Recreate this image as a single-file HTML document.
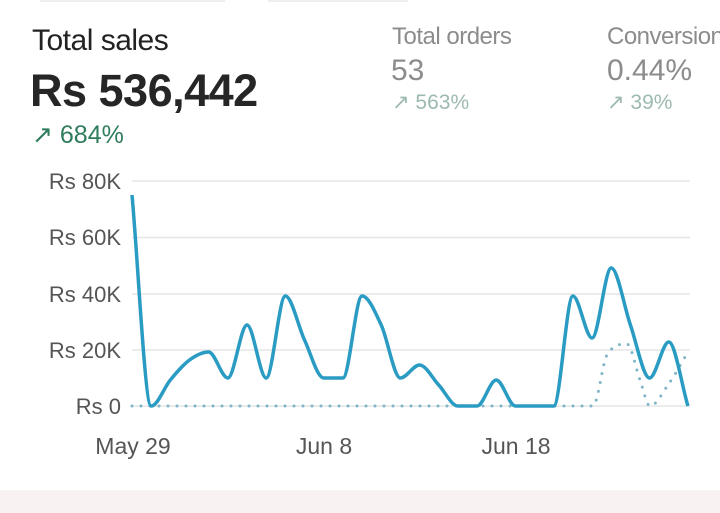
<!DOCTYPE html><html><head><style>
body{margin:0;width:720px;height:513px;background:#fff;overflow:hidden;position:relative;font-family:"Liberation Sans",sans-serif}
.t{position:absolute;white-space:nowrap}
</style></head><body>
<div style="position:absolute;left:0;top:490px;width:720px;height:23px;background:#f8f2f3"></div>
<div style="position:absolute;left:40px;top:0;width:185px;height:2px;background:#eee"></div>
<div style="position:absolute;left:268px;top:0;width:140px;height:2px;background:#eee"></div>
<div class="t" style="left:32px;top:24px;font-size:30px;color:#222;letter-spacing:-0.5px">Total sales</div>
<div class="t" style="left:30px;top:65px;font-size:45px;font-weight:bold;color:#262626;letter-spacing:-0.5px">Rs 536,442</div>
<div class="t" style="left:32px;top:120px;font-size:25px;color:#2f7c5c">&#8599; 684%</div>
<div class="t" style="left:392px;top:23px;font-size:24px;color:#8c8c8c;letter-spacing:-0.5px">Total orders</div>
<div class="t" style="left:391px;top:54px;font-size:30px;color:#8c8c8c">53</div>
<div class="t" style="left:392px;top:90px;font-size:21px;color:#9dbab0">&#8599; 563%</div>
<div class="t" style="left:607px;top:23px;font-size:24px;color:#8c8c8c;letter-spacing:-0.5px">Conversion</div>
<div class="t" style="left:607px;top:54px;font-size:30px;color:#8c8c8c">0.44%</div>
<div class="t" style="left:607px;top:90px;font-size:21px;color:#9dbab0">&#8599; 39%</div>
<svg id="s" width="720" height="513" style="position:absolute;left:0;top:0">
<g stroke="#e6e6e6" stroke-width="1.5">
<line x1="132" x2="690" y1="181" y2="181"/><line x1="132" x2="690" y1="237.5" y2="237.5"/>
<line x1="132" x2="690" y1="294" y2="294"/><line x1="132" x2="690" y1="350" y2="350"/><line x1="132" x2="690" y1="406" y2="406"/>
</g>
<g font-size="22" fill="#555" text-anchor="end" font-family="Liberation Sans">
<text x="121" y="189">Rs 80K</text><text x="121" y="245">Rs 60K</text><text x="121" y="302">Rs 40K</text><text x="121" y="358">Rs 20K</text><text x="121" y="414">Rs 0</text>
</g>
<g font-size="23" fill="#555" text-anchor="middle" font-family="Liberation Sans">
<text x="133" y="454">May 29</text><text x="324" y="454">Jun 8</text><text x="516" y="454">Jun 18</text>
</g>
<path id="d" fill="none" stroke="#7fb5c7" stroke-width="3" stroke-dasharray="0 9" stroke-linecap="round"/>
<path id="m" fill="none" stroke="#2a9cc3" stroke-width="3.5" stroke-linejoin="round"/>
</svg>
<script>
function mono(p){var n=p.length,dx=[],m=[],t=[];
for(var i=0;i<n-1;i++){dx[i]=p[i+1][0]-p[i][0];m[i]=(p[i+1][1]-p[i][1])/dx[i];}
t[0]=m[0];t[n-1]=m[n-2];
for(i=1;i<n-1;i++){t[i]=(m[i-1]*m[i]<=0)?0:(m[i-1]+m[i])/2;}
for(i=0;i<n-1;i++){if(m[i]==0){t[i]=0;t[i+1]=0;continue;}var a=t[i]/m[i],b=t[i+1]/m[i],s=a*a+b*b;if(s>9){var k=3/Math.sqrt(s);t[i]=k*a*m[i];t[i+1]=k*b*m[i];}}
var d="M"+p[0][0]+","+p[0][1];
for(i=0;i<n-1;i++){var h=dx[i]/3;d+=" C"+(p[i][0]+h)+","+(p[i][1]+t[i]*h)+" "+(p[i+1][0]-h)+","+(p[i+1][1]-t[i+1]*h)+" "+p[i+1][0]+","+p[i+1][1];}
return d;}
var ys=[195,406,380,360,352,378,325,378,296,340,378,378,296,325,378,365,385,406,406,380,406,406,406,296,338,268,325,378,342,406];
var pts=ys.map(function(y,i){return[132+19.17*i,y]});
document.getElementById("m").setAttribute("d",mono(pts));
var dp=[];for(var i=0;i<=22;i++)dp.push([132+19.17*i,406]);
dp.push([593,406],[607,355],[627,344],[640,380],[650,406],[668,385],[688,352]);
document.getElementById("d").setAttribute("d",mono(dp));
</script>
</body></html>
